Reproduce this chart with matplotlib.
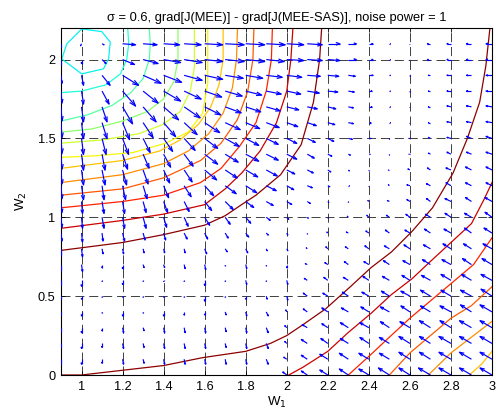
import numpy as np
import matplotlib
matplotlib.use("Agg")
import matplotlib.pyplot as plt
from matplotlib.collections import LineCollection
from matplotlib.transforms import IdentityTransform

plt.rcParams['font.family'] = ['Liberation Sans', 'DejaVu Sans']
plt.rcParams['lines.scale_dashes'] = False

# ---------------- data ----------------
x_grid = [0.9, 1.0, 1.1, 1.2, 1.3, 1.4, 1.5, 1.6, 1.7, 1.8, 1.9, 2.0,
          2.1, 2.2, 2.3, 2.4, 2.5, 2.6, 2.7, 2.8, 2.9, 3.0]
y_grid_top_down = [2.1, 2.0, 1.9, 1.8, 1.7, 1.6, 1.5, 1.4, 1.3, 1.2, 1.1,
                   1.0, 0.9, 0.8, 0.7, 0.6, 0.5, 0.4, 0.3, 0.2, 0.1, 0.0]

# gradient-difference field (screen units), rows from y=2.1 down to y=0
U = [
    [0, -1, 2, 13, 14, 16, 17, 18, 19, 19, 19, 17, 15, 12, 8, 4, 1, 0, -3, -4, -5, -6],
    [0, 0, 4, 12, 15, 17, 18, 18, 19, 19, 18, 17, 15, 12, 8, 4, 1, 0, -3, -4, -5, -6],
    [1, 2, 8, 16, 18, 18, 18, 18, 18, 17, 16, 15, 13, 11, 7, 4, 1, 0, -2, -4, -5, -6],
    [1, 2, 7, 13, 15, 17, 17, 17, 17, 16, 15, 14, 12, 10, 6, 3, 1, 0, -2, -4, -5, -6],
    [1, 2, 5, 10, 13, 15, 16, 16, 16, 15, 14, 12, 10, 8, 5, 3, 1, 0, -2, -4, -5, -6],
    [1, 2, 5, 7, 10, 12, 13, 15, 15, 14, 13, 11, 9, 7, 5, 2, 1, 0, -2, -4, -5, -6],
    [1, 2, 4, 6, 7, 9, 11, 13, 14, 13, 12, 10, 8, 6, 4, 2, 0, -1, -2, -4, -5, -6],
    [1, 2, 3, 5, 6, 7, 9, 13, 13, 13, 12, 10, 7, 4, 2, 1, 0, -1, -2, -4, -5, -6],
    [1, 2, 3, 4, 5, 6, 8, 12, 12, 12, 11, 8, 6, 3, 1, 0, -1, -2, -3, -5, -6, -6],
    [1, 2, 2, 3, 4, 5, 7, 9, 11, 11, 10, 7, 5, 2, 1, 0, -1, -3, -4, -5, -6, -6],
    [1, 1, 2, 2, 3, 4, 5, 7, 8, 8, 7, 5, 3, 1, 0, -1, -2, -3, -4, -6, -6, -7],
    [1, 1, 2, 2, 3, 3, 4, 5, 5, 5, 4, 2, 1, 0, -1, -2, -3, -4, -5, -6, -7, -7],
    [1, 1, 1, 2, 2, 2, 3, 3, 3, 3, 2, 1, 0, -1, -2, -3, -4, -5, -6, -7, -7, -8],
    [0, 1, 1, 1, 1, 1, 1, 2, 2, 2, 1, 1, -1, -2, -3, -4, -5, -6, -7, -8, -8, -9],
    [0, 1, 0, 0, 1, 1, 1, 1, 0, 1, 0, 0, -2, -3, -4, -5, -6, -7, -8, -9, -9, -10],
    [0, 0, 0, 0, 0, 0, 0, 0, 0, 1, 0, 1, -3, -4, -5, -6, -7, -8, -9, -10, -10, -11],
    [0, 0, 0, 0, 0, 0, 0, 0, 0, 0, 1, 1, -4, -5, -6, -7, -8, -9, -10, -10, -11, -11],
    [0, 0, 0, 0, 0, 0, 0, 0, 1, 1, 2, -1, -4, -6, -7, -8, -9, -9, -10, -11, -11, -12],
    [0, 0, 0, 1, 1, 1, 1, 1, 1, 1, 2, -2, -5, -6, -8, -9, -9, -10, -11, -11, -12, -12],
    [0, 0, 0, 1, 1, 1, 1, 1, 1, 1, 2, -2, -6, -7, -8, -9, -10, -11, -11, -12, -12, -12],
    [0, 0, 0, 1, 1, 1, 1, 1, 1, 1, 2, -3, -6, -8, -9, -10, -10, -11, -11, -12, -12, -12],
    [0, 0, 0, 1, 1, 1, 1, 1, 1, 2, 2, -4, -6, -8, -9, -10, -11, -11, -12, -12, -12, -12],
]
V = [
    [-3, -2, -1, -1, -1, -1, -1, -1, -1, -1, -1, -1, -1, 0, 0, 0, 0, 0, 0, 0, 0, 0],
    [-5, -4, -4, -5, -4, -3, -3, -2, -2, -2, -2, -1, -1, -1, 0, 0, 0, 0, 0, 0, 0, 0],
    [-8, -10, -10, -10, -8, -7, -5, -4, -3, -3, -2, -2, -1, -1, -1, 0, 0, 0, 0, 0, 0, 0],
    [-12, -13, -13, -15, -12, -10, -8, -6, -5, -4, -3, -3, -2, -1, -1, 0, 0, 0, 0, 0, 0, 0],
    [-14, -15, -15, -17, -15, -13, -11, -8, -6, -5, -4, -3, -2, -2, -1, 0, 0, 0, 0, 1, 1, 1],
    [-15, -16, -16, -17, -15, -14, -12, -10, -7, -6, -5, -4, -3, -2, -1, 0, 0, 0, 0, 1, 1, 1],
    [-15, -16, -16, -16, -14, -13, -12, -10, -8, -7, -6, -5, -4, -3, -1, 0, 0, 0, 1, 1, 2, 2],
    [-15, -16, -16, -15, -14, -13, -12, -10, -8, -7, -6, -5, -4, -2, -1, 0, 0, 0, 1, 2, 2, 2],
    [-14, -15, -15, -15, -14, -13, -12, -10, -8, -7, -6, -4, -3, -2, -1, 0, 0, 1, 2, 2, 3, 3],
    [-13, -14, -14, -14, -13, -12, -11, -10, -8, -7, -5, -4, -2, -1, 0, 0, 1, 1, 2, 3, 3, 3],
    [-11, -12, -12, -12, -11, -11, -10, -9, -8, -6, -4, -3, -2, -1, 0, 1, 1, 2, 3, 3, 4, 4],
    [-10, -11, -11, -11, -11, -10, -9, -8, -7, -6, -3, -2, -1, 0, 1, 2, 2, 3, 3, 4, 4, 5],
    [-8, -9, -8, -8, -7, -7, -6, -6, -5, -4, -2, -2, 0, 1, 1, 2, 3, 3, 4, 4, 5, 5],
    [-7, -8, -5, -5, -4, -4, -4, -5, -3, -4, -2, -2, 1, 2, 2, 3, 3, 4, 4, 5, 5, 5],
    [-6, -7, -3, -4, -3, -3, -4, -5, -1, -4, -1, -3, 1, 2, 3, 3, 4, 4, 5, 5, 6, 6],
    [-5, -6, -1, -4, -1, -1, -1, -5, -1, -4, -1, -4, 2, 3, 3, 4, 4, 5, 5, 6, 6, 6],
    [-3, -3, -1, -1, -1, -1, -1, -5, -1, -3, -3, -4, 3, 3, 4, 4, 5, 5, 6, 6, 6, 7],
    [-3, -4, -1, -4, -1, -4, -3, -3, -3, -4, -4, 2, 3, 4, 4, 5, 5, 6, 6, 6, 7, 7],
    [-4, -5, -3, -5, -3, -5, -5, -5, -4, -5, -5, 2, 3, 4, 5, 5, 6, 6, 7, 7, 7, 7],
    [-4, -5, -4, -5, -4, -5, -5, -5, -4, -5, -5, 2, 4, 5, 5, 6, 6, 7, 7, 7, 7, 7],
    [-5, -5, -4, -5, -4, -5, -5, -5, -5, -5, -5, 2, 4, 5, 6, 6, 6, 7, 7, 7, 7, 7],
    [-5, -5, -4, -5, -4, -5, -5, -5, -5, -5, -5, 3, 4, 5, 6, 6, 7, 7, 7, 7, 7, 7],
]

# contour lines (x list, y list, colour level in [0,1] of jet)
loop_x = [1.001, 1.099, 1.140, 1.132, 1.107, 1.001, 0.904, 0.928, 1.001]
loop_y = [2.194, 2.177, 2.110, 2.004, 1.941, 1.909, 2.004, 2.099, 2.194]
arc1_x = [1.225, 1.23, 1.22, 1.19, 1.12, 1.0, 0.9]
arc1_y = [2.2, 2.1, 2.0, 1.91, 1.84, 1.80, 1.79]
arc2_x = [1.33, 1.335, 1.33, 1.30, 1.24, 1.15, 1.03, 0.9]
arc2_y = [2.2, 2.1, 2.0, 1.88, 1.79, 1.71, 1.65, 1.61]
arc3_x = [1.47, 1.47, 1.45, 1.40, 1.32, 1.2, 1.05, 0.9]
arc3_y = [2.2, 2.0, 1.86, 1.75, 1.67, 1.61, 1.56, 1.54]
arc4_x = [1.55, 1.55, 1.53, 1.48, 1.40, 1.28, 1.1, 0.9]
arc4_y = [2.2, 1.95, 1.80, 1.67, 1.59, 1.53, 1.49, 1.47]
arc5_x = [1.615, 1.615, 1.59, 1.52, 1.41, 1.25, 1.07, 0.9]
arc5_y = [2.2, 1.85, 1.66, 1.54, 1.47, 1.41, 1.39, 1.38]
arc6_x = [1.69, 1.69, 1.67, 1.63, 1.57, 1.48, 1.38, 1.2, 0.9]
arc6_y = [2.2, 2.0, 1.84, 1.70, 1.59, 1.49, 1.42, 1.36, 1.31]
arc7_x = [1.76, 1.755, 1.735, 1.69, 1.62, 1.52, 1.4, 1.2, 0.9]
arc7_y = [2.2, 2.0, 1.82, 1.66, 1.53, 1.42, 1.34, 1.27, 1.22]
arc8_x = [1.84, 1.835, 1.81, 1.76, 1.68, 1.58, 1.4, 1.2, 0.9]
arc8_y = [2.2, 2.0, 1.8, 1.62, 1.47, 1.36, 1.25, 1.18, 1.14]
arc9_x = [1.93, 1.925, 1.90, 1.85, 1.77, 1.68, 1.58, 1.4, 1.2, 0.9]
arc9_y = [2.2, 2.0, 1.8, 1.6, 1.45, 1.31, 1.22, 1.14, 1.10, 1.06]
arc10_x = [2.03, 2.02, 2.0, 1.95, 1.87, 1.78, 1.70, 1.6, 1.4, 1.2, 0.9]
arc10_y = [2.2, 2.0, 1.8, 1.6, 1.42, 1.28, 1.18, 1.08, 1.02, 0.98, 0.93]
arc11_x = [2.17, 2.16, 2.13, 2.07, 1.97, 1.85, 1.78, 1.70, 1.6, 1.4, 1.2, 0.9]
arc11_y = [2.2, 2.0, 1.73, 1.46, 1.27, 1.14, 1.08, 1.01, 0.95, 0.89, 0.84, 0.79]
lowA_x = [0.9, 1.0, 1.2, 1.4, 1.59, 1.8, 1.92, 2.0, 2.08, 2.19, 2.31, 2.41, 2.51,
          2.61, 2.71, 2.76, 2.81, 2.88, 2.94, 2.97, 2.99]
lowA_y = [0.0, 0.0, 0.03, 0.06, 0.11, 0.15, 0.2, 0.25, 0.32, 0.42, 0.56, 0.68, 0.78,
          0.91, 1.06, 1.17, 1.28, 1.5, 1.73, 1.96, 2.2]
lowB_x = [2.01, 2.08, 2.2, 2.3, 2.41, 2.51, 2.61, 2.7, 2.8, 2.9, 2.96, 3.0]
lowB_y = [0.0, 0.05, 0.15, 0.27, 0.39, 0.51, 0.61, 0.72, 0.84, 0.96, 1.11, 1.22]
lowC_x = [2.30, 2.41, 2.5, 2.6, 2.7, 2.81, 2.91, 3.0]
lowC_y = [0.0, 0.13, 0.24, 0.36, 0.47, 0.59, 0.70, 0.87]
lowD_x = [2.5, 2.6, 2.7, 2.8, 2.9, 3.0]
lowD_y = [0.0, 0.14, 0.25, 0.36, 0.44, 0.56]
lowE_x = [2.69, 2.8, 2.9, 3.0]
lowE_y = [0.0, 0.14, 0.24, 0.34]
lowF_x = [2.89, 2.95, 3.0]
lowF_y = [0.0, 0.07, 0.15]

contour_lines = [
    (loop_x, loop_y, 0.36), (arc1_x, arc1_y, 0.39), (arc2_x, arc2_y, 0.45),
    (arc3_x, arc3_y, 0.52), (arc4_x, arc4_y, 0.60), (arc5_x, arc5_y, 0.645),
    (arc6_x, arc6_y, 0.702), (arc7_x, arc7_y, 0.759), (arc8_x, arc8_y, 0.816),
    (arc9_x, arc9_y, 0.873), (arc10_x, arc10_y, 0.93), (arc11_x, arc11_y, 0.987),
    (lowA_x, lowA_y, 0.987), (lowB_x, lowB_y, 0.93), (lowC_x, lowC_y, 0.873),
    (lowD_x, lowD_y, 0.816), (lowE_x, lowE_y, 0.759), (lowF_x, lowF_y, 0.702),
]

x_ticks = [1.0, 1.2, 1.4, 1.6, 1.8, 2.0, 2.2, 2.4, 2.6, 2.8, 3.0]
x_tick_labels = ['1', '1.2', '1.4', '1.6', '1.8', '2', '2.2', '2.4', '2.6', '2.8', '3']
y_ticks = [0.0, 0.5, 1.0, 1.5, 2.0]
y_tick_labels = ['0', '0.5', '1', '1.5', '2']

title_text = '\u03c3 = 0.6, grad[J(MEE)] - grad[J(MEE-SAS)], noise power = 1'

# ---------------- plot ----------------
fig = plt.figure(figsize=(4.96, 4.15), dpi=100)
ax = fig.add_axes([61 / 496, 40 / 415, 431 / 496, 347 / 415])

ax.set_xlim(0.9, 3.0)
ax.set_ylim(0.0, 2.2)

ax.grid(True, color='#202020', lw=0.6, linestyle=(0, (6.5, 3.5)), zorder=1)
ax.set_axisbelow(True)

cmap = plt.get_cmap('jet')
for xs, ys, lev in contour_lines:
    ax.plot(xs, ys, color=cmap(lev), lw=0.9, zorder=2)

# MATLAB-style quiver arrows: shaft plus open head (alpha = beta = 0.33)
Xg, Yg = np.meshgrid(np.array(x_grid), np.array(y_grid_top_down))
Ua = np.array(U, float).ravel()
Va = np.array(V, float).ravel()
pts = np.column_stack([Xg.ravel(), Yg.ravel()])
a, b = 0.33, 0.33
segs, offs = [], []
for (px, py), u, v in zip(pts, Ua, Va):
    if u == 0 and v == 0:
        u, v = 0.0, -0.6
    segs.append([(0.0, 0.0), (u, v)])
    offs.append((px, py))
    segs.append([(u - a * (u + b * v), v - a * (v - b * u)), (u, v),
                 (u - a * (u - b * v), v - a * (v + b * u))])
    offs.append((px, py))
lc = LineCollection(segs, offsets=offs, offset_transform=ax.transData,
                    transform=IdentityTransform(), colors='#0000ff',
                    linewidths=0.85, zorder=3)
ax.add_collection(lc, autolim=False)

ax.set_xticks(x_ticks)
ax.set_xticklabels(x_tick_labels)
ax.set_yticks(y_ticks)
ax.set_yticklabels(y_tick_labels)
ax.tick_params(direction='in', length=3, width=0.6, labelsize=9.2,
               top=True, right=True, pad=4)
for sp in ax.spines.values():
    sp.set_linewidth(0.8)

ax.set_title(title_text, fontsize=9.3, pad=5)
ax.set_xlabel('W$_1$', fontsize=9.5, labelpad=2)
ax.set_ylabel('W$_2$', fontsize=9.5, labelpad=6)

fig.savefig('out.png', dpi=100)
